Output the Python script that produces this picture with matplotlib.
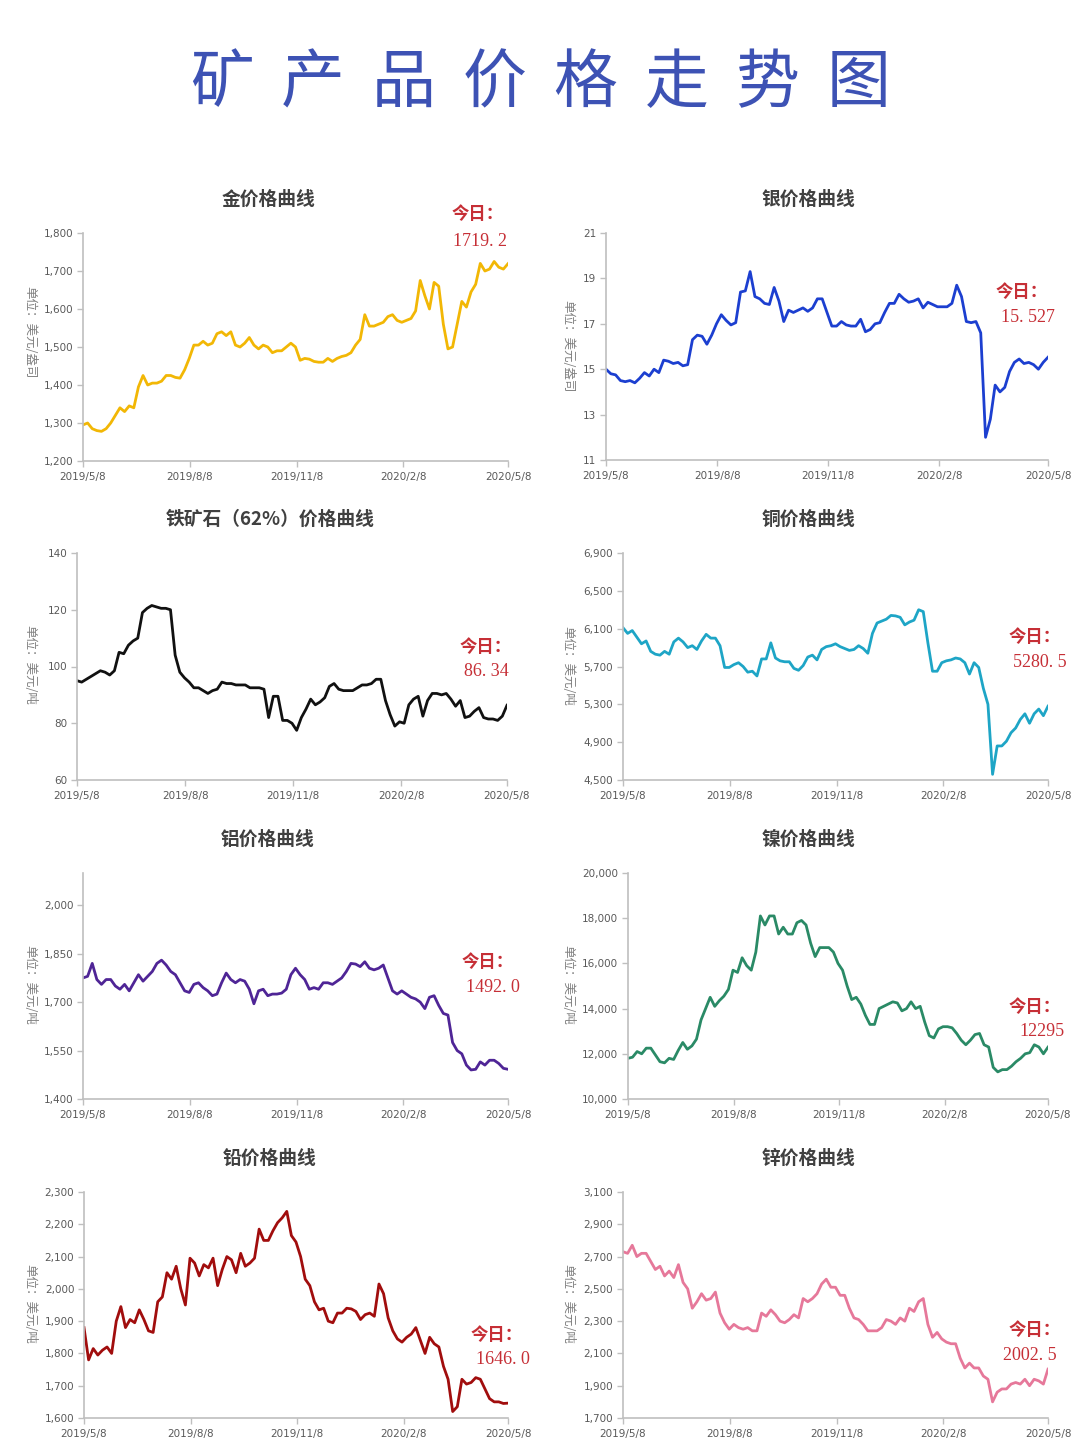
import matplotlib
matplotlib.use("Agg")
import matplotlib.pyplot as plt
import matplotlib.dates as mdates
import pandas as pd
import numpy as np

plt.rcParams['font.family'] = ['DejaVu Sans', 'Noto Sans CJK SC']

# ---------------- data (93 evenly spaced samples, 2019/5/8 .. 2020/5/8) ----------------
START, END = "2019-05-08", "2020-05-08"
x_tick_dates = ["2019-05-08", "2019-08-08", "2019-11-08", "2020-02-08", "2020-05-08"]
x_tick_labels = ["2019/5/8", "2019/8/8", "2019/11/8", "2020/2/8", "2020/5/8"]

gold = [1295, 1300, 1285, 1280, 1278, 1285, 1300, 1320, 1340, 1330, 1345, 1340, 1395, 1425, 1400, 1405,
        1405, 1410, 1425, 1425, 1420, 1418, 1440,
        1470, 1505, 1505, 1515, 1505, 1510, 1535, 1540, 1530, 1540, 1505, 1500, 1510, 1525, 1505, 1495,
        1505, 1500, 1485, 1490, 1490, 1500, 1510,
        1500, 1465, 1470, 1468, 1462, 1460, 1460, 1470, 1462, 1470, 1475, 1478, 1485, 1505, 1520, 1585,
        1555, 1555, 1560, 1565, 1580, 1585, 1570,
        1565, 1570, 1575, 1595, 1675, 1635, 1600, 1670, 1660, 1560, 1495, 1500, 1560, 1620, 1605, 1645,
        1665, 1720, 1700, 1705, 1725, 1710, 1705, 1719.2]

silver = [15.0, 14.8, 14.75, 14.5, 14.45, 14.5, 14.4, 14.6, 14.85, 14.7, 15.0, 14.85, 15.4, 15.35, 15.25,
          15.3, 15.15, 15.2, 16.3, 16.5, 16.45, 16.1, 16.5,
          17.0, 17.4, 17.15, 16.95, 17.05, 18.4, 18.45, 19.3, 18.2, 18.1, 17.9, 17.85, 18.6, 18.0, 17.1,
          17.6, 17.5, 17.6, 17.7, 17.55, 17.7, 18.1, 18.1,
          17.5, 16.9, 16.9, 17.1, 16.95, 16.9, 16.9, 17.2, 16.65, 16.75, 17.0, 17.05, 17.5, 17.9, 17.9,
          18.3, 18.1, 17.95, 18.0, 18.1, 17.7, 17.95, 17.85,
          17.75, 17.75, 17.75, 17.9, 18.7, 18.2, 17.1, 17.05, 17.1, 16.6, 12.0, 12.8, 14.3, 14.0, 14.2,
          14.9, 15.3, 15.45, 15.25, 15.3, 15.2, 15.0, 15.3, 15.527]

iron = [95, 94.5, 95.5, 96.5, 97.5, 98.5, 98, 97, 98.5, 105, 104.5, 107.5, 109, 110, 119, 120.5, 121.5,
        121, 120.5, 120.5, 120, 104, 98,
        96, 94.5, 92.5, 92.5, 91.5, 90.5, 91.5, 92, 94.5, 94, 94, 93.5, 93.5, 93.5, 92.5, 92.5, 92.5, 92,
        82, 89.5, 89.5, 81, 81,
        80, 77.5, 82, 85, 88.5, 86.5, 87.5, 89, 93, 94, 92, 91.5, 91.5, 91.5, 92.5, 93.5, 93.5, 94, 95.5,
        95.5, 88, 83, 79,
        80.5, 80, 86.5, 88.5, 89.5, 82.5, 88, 90.5, 90.5, 90, 90.5, 88.5, 86, 88, 82, 82.5, 84.2, 85.5,
        82, 81.5, 81.5, 81, 82.5, 86.34]

copper = [6110, 6050, 6080, 6010, 5940, 5970, 5860, 5830, 5820, 5860, 5830, 5960, 6000, 5960, 5900, 5920,
          5880, 5970, 6040, 6000, 6000, 5920, 5690,
          5690, 5720, 5740, 5700, 5640, 5650, 5600, 5780, 5780, 5950, 5790, 5760, 5750, 5750, 5680, 5660,
          5710, 5800, 5820, 5770, 5880, 5910, 5920,
          5940, 5910, 5890, 5870, 5880, 5920, 5890, 5840, 6050, 6160, 6180, 6200, 6240, 6235, 6220, 6140,
          6170, 6190, 6300, 6280, 5950, 5650, 5650,
          5740, 5760, 5770, 5790, 5780, 5740, 5620, 5740, 5690, 5470, 5300, 4560, 4860, 4860, 4910, 5000,
          5050, 5140, 5200, 5100, 5200, 5250, 5180, 5280.5]

aluminum = [1775, 1780, 1820, 1770, 1755, 1770, 1770, 1750, 1740, 1755, 1735, 1760, 1785, 1765, 1780, 1795,
            1820, 1830, 1815, 1795, 1785, 1760, 1735,
            1730, 1755, 1760, 1745, 1735, 1720, 1725, 1760, 1790, 1770, 1760, 1770, 1765, 1740, 1695, 1735,
            1740, 1720, 1725, 1725, 1728, 1740, 1785,
            1805, 1785, 1770, 1740, 1745, 1740, 1760, 1760, 1755, 1765, 1775, 1795, 1820, 1818, 1810, 1825,
            1805, 1800, 1805, 1815, 1775, 1735, 1725,
            1735, 1725, 1715, 1710, 1700, 1680, 1715, 1720, 1690, 1665, 1660, 1575, 1550, 1540, 1505, 1490,
            1492, 1515, 1505, 1520, 1520, 1510, 1495, 1492.0]

nickel = [11800, 11850, 12100, 12000, 12250, 12250, 11950, 11650, 11600, 11800, 11750, 12150, 12500, 12200,
          12350, 12650, 13500, 14000, 14500, 14100, 14350, 14550, 14850,
          15700, 15600, 16250, 15900, 15700, 16500, 18100, 17700, 18100, 18100, 17300, 17600, 17300, 17300,
          17800, 17900, 17700, 16900, 16300, 16700, 16700, 16700, 16500,
          16000, 15700, 15000, 14400, 14500, 14200, 13700, 13300, 13300, 14000, 14100, 14200, 14300, 14250,
          13900, 14000, 14300, 14000, 14100, 13400, 12800, 12700, 13100,
          13200, 13200, 13150, 12900, 12600, 12400, 12600, 12850, 12900, 12400, 12300, 11400, 11200, 11300,
          11300, 11450, 11650, 11800, 12000, 12050, 12400, 12300, 12000, 12295]

lead = [1880, 1780, 1815, 1795, 1810, 1820, 1800, 1900, 1945, 1880, 1905, 1895, 1935, 1905, 1870, 1865,
        1960, 1975, 2050, 2030, 2070, 2000, 1950,
        2095, 2080, 2040, 2075, 2065, 2095, 2010, 2060, 2100, 2090, 2050, 2110, 2070, 2080, 2095, 2185,
        2150, 2150, 2180, 2205, 2220, 2240, 2165,
        2145, 2100, 2030, 2010, 1960, 1935, 1940, 1900, 1895, 1925, 1925, 1940, 1938, 1930, 1905, 1920,
        1925, 1915, 2015, 1985, 1910, 1870, 1845,
        1835, 1850, 1860, 1880, 1840, 1800, 1850, 1830, 1820, 1760, 1720, 1620, 1635, 1720, 1705, 1710,
        1725, 1720, 1690, 1660, 1650, 1650, 1645, 1646.0]

zinc = [2730, 2720, 2770, 2700, 2720, 2720, 2670, 2620, 2640, 2580, 2610, 2570, 2650, 2540, 2500, 2380,
        2420, 2470, 2430, 2440, 2480, 2350, 2290,
        2250, 2280, 2260, 2250, 2260, 2240, 2240, 2350, 2330, 2370, 2340, 2300, 2290, 2310, 2340, 2320,
        2440, 2420, 2440, 2470, 2530, 2560, 2510,
        2510, 2460, 2460, 2380, 2320, 2310, 2280, 2240, 2240, 2240, 2260, 2310, 2300, 2280, 2320, 2300,
        2380, 2360, 2420, 2440, 2280, 2200, 2230,
        2190, 2170, 2160, 2160, 2070, 2010, 2040, 2010, 2010, 1960, 1940, 1800, 1860, 1880, 1880, 1910,
        1920, 1910, 1940, 1900, 1940, 1930, 1910, 2002.5]

titles = ["金价格曲线", "银价格曲线", "铁矿石（62%）价格曲线", "铜价格曲线",
          "铝价格曲线", "镍价格曲线", "铅价格曲线", "锌价格曲线"]
units = ["单位：美元/盎司", "单位：美元/盎司", "单位：美元/吨", "单位：美元/吨",
         "单位：美元/吨", "单位：美元/吨", "单位：美元/吨", "单位：美元/吨"]
today_labels = ["1719. 2", "15. 527", "86. 34", "5280. 5", "1492. 0", "12295", "1646. 0", "2002. 5"]
y_ranges = [(1200, 1800), (11, 21), (60, 140), (4500, 6900),
            (1400, 2100), (10000, 20000), (1600, 2300), (1700, 3100)]
y_ticks = [[1200, 1300, 1400, 1500, 1600, 1700, 1800],
           [11, 13, 15, 17, 19, 21],
           [60, 80, 100, 120, 140],
           [4500, 4900, 5300, 5700, 6100, 6500, 6900],
           [1400, 1550, 1700, 1850, 2000],
           [10000, 12000, 14000, 16000, 18000, 20000],
           [1600, 1700, 1800, 1900, 2000, 2100, 2200, 2300],
           [1700, 1900, 2100, 2300, 2500, 2700, 2900, 3100]]
series = [gold, silver, iron, copper, aluminum, nickel, lead, zinc]

# ---------------- layout / style ----------------
W, H = 1080, 1454
colors = ["#f2b705", "#1c3fd0", "#111111", "#1ea5c6", "#4f2596", "#2a8a66", "#a10d0d", "#e6789a"]
# axes rect in pixels: left, top, right, bottom
rects = [(83, 233, 508, 461), (606, 233, 1048, 460),
         (77, 553, 507, 780), (623, 553, 1048, 780),
         (83, 873, 508, 1099), (628, 873, 1048, 1099),
         (84, 1192, 508, 1418), (623, 1192, 1048, 1418)]
title_pos = [(268, 199), (808, 199), (270, 519), (808, 519),
             (268, 839), (808, 839), (270, 1158), (808, 1158)]
unit_pos = [(30, 332), (568, 346), (30, 665), (568, 666),
            (30, 985), (568, 985), (30, 1304), (568, 1304)]
today_pos = [(478, 214), (1022, 292), (486, 647), (1035, 637),
             (488, 962), (1035, 1007), (497, 1335), (1035, 1330)]
value_pos = [(480, 242), (1028, 318), (486, 671), (1040, 663),
             (493, 987), (1042, 1032), (503, 1360), (1030, 1355)]

fig = plt.figure(figsize=(W / 100, H / 100), dpi=100)
fig.patch.set_facecolor("white")

def fx(x):
    return x / W

def fy(y):
    return 1 - y / H

# big title, characters spaced out
title_chars = "矿产品价格走势图"
for i, ch in enumerate(title_chars):
    fig.text(fx(222 + 90.9 * i), fy(84), ch, ha="center", va="center",
             fontsize=46, fontweight="light", color="#3d52b4", family=["Noto Sans CJK SC"])

tick_dates = pd.to_datetime(x_tick_dates)
for i in range(8):
    l, t, r, b = rects[i]
    ax = fig.add_axes([fx(l), fy(b), (r - l) / W, (b - t) / H])
    dates = pd.date_range(START, END, periods=len(series[i]))
    ax.plot(dates, series[i], color=colors[i], lw=2.0, solid_joinstyle="round")
    ax.set_xlim(pd.Timestamp(START), pd.Timestamp(END))
    ax.set_ylim(*y_ranges[i])
    ax.set_yticks(y_ticks[i])
    if y_ranges[i][1] >= 1000:
        ax.set_yticklabels([f"{v:,}" for v in y_ticks[i]])
    else:
        ax.set_yticklabels([str(v) for v in y_ticks[i]])
    ax.set_xticks(tick_dates)
    ax.set_xticklabels(x_tick_labels)
    for s in ["top", "right"]:
        ax.spines[s].set_visible(False)
    for s in ["left", "bottom"]:
        ax.spines[s].set_color("#bfbfbf")
        ax.spines[s].set_linewidth(1.2)
    ax.tick_params(axis="both", colors="#bfbfbf", labelcolor="#595959", labelsize=7.5,
                   length=4, width=1.0, pad=3)
    ax.tick_params(axis="x", pad=4)
    ax.patch.set_alpha(0)

    fig.text(fx(title_pos[i][0]), fy(title_pos[i][1]), titles[i], ha="center", va="center",
             fontsize=13.5, fontweight="bold", color="#404040",
             family=["Noto Sans CJK SC", "DejaVu Sans"])
    fig.text(fx(unit_pos[i][0]), fy(unit_pos[i][1]), units[i], ha="center", va="center",
             rotation=270, fontsize=9, color="#808080",
             family=["Noto Sans CJK SC", "DejaVu Sans"])
    fig.text(fx(today_pos[i][0]), fy(today_pos[i][1]), "今日：", ha="center", va="center",
             fontsize=12.5, fontweight="bold", color="#c62f36",
             family=["Noto Sans CJK SC", "DejaVu Sans"])
    fig.text(fx(value_pos[i][0]), fy(value_pos[i][1]), today_labels[i], ha="center", va="center",
             fontsize=13, color="#c62f36",
             family=["Liberation Serif", "Noto Sans CJK SC"])

fig.savefig("out.png", dpi=100, facecolor="white")
